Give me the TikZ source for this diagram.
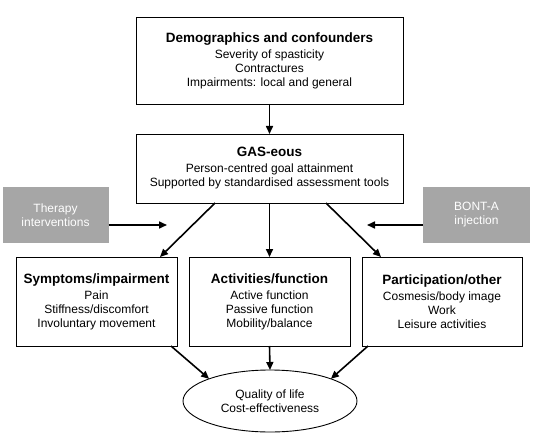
\documentclass[tikz,border=0pt]{standalone}
\usepackage{fontspec}
\setmainfont{Liberation Sans}
\usetikzlibrary{arrows.meta,shapes.geometric}
\definecolor{boxgray}{HTML}{A6A6A6}
\begin{document}
\begin{tikzpicture}[x=1pt,y=-1pt,
  every node/.style={inner sep=0pt,outer sep=0pt,align=center,font=\fontsize{12}{14}\selectfont},
  whitebox/.style={draw=black,line width=0.9pt,fill=white,rectangle},
  graybox/.style={fill=boxgray,rectangle,text=white},
  conn/.style={line width=1.6pt,-{Triangle[length=8pt,width=7pt]}}]
\useasboundingbox (0,0) rectangle (537,438);
\newcommand{\hd}[1]{{\bfseries\fontsize{13.5}{16}\selectfont #1}\\[2pt]}
\node[whitebox,minimum width=267,minimum height=87] (demo) at (269.5,60.5)
  {\hd{Demographics and confounders}Severity of spasticity\\Contractures\\Impairments: local and general};
\node[whitebox,minimum width=267,minimum height=69] (gas) at (269.5,168.5)
  {\hd{GAS-eous}Person-centred goal attainment\\Supported by standardised assessment tools};
\node[graybox,minimum width=106,minimum height=56] (ther) at (55.5,215) {Therapy\\interventions};
\node[graybox,minimum width=107,minimum height=56] (bont) at (476.5,215) {BONT-A\\injection};
\node[whitebox,minimum width=161,minimum height=89] (sym) at (96.5,301.5)
  {\hd{Symptoms/impairment}Pain\\Stiffness/discomfort\\Involuntary movement};
\node[whitebox,minimum width=161,minimum height=89] (act) at (269.5,301.5)
  {\hd{Activities/function}Active function\\Passive function\\Mobility/balance};
\node[whitebox,minimum width=160,minimum height=89] (par) at (442,301.5)
  {\hd{Participation/other}Cosmesis/body image\\Work\\Leisure activities};
\node[draw=black,line width=0.9pt,ellipse,minimum width=174,minimum height=62] (qol) at (270,401)
  {Quality of life\\Cost-effectiveness};
\coordinate (therend) at (167,225);
\coordinate (bontend) at (367,225);
\draw[conn] (demo.south) -- (gas.north);
\draw[conn] ([xshift=-54.5pt]gas.south) -- ([xshift=63.5pt]sym.north);
\draw[conn] (gas.south) -- (act.north);
\draw[conn] ([xshift=56.5pt]gas.south) -- ([xshift=-61pt]par.north);
\draw[conn] ([yshift=-10pt]ther.east) -- (therend);
\draw[conn] ([yshift=-10pt]bont.west) -- (bontend);
\draw[conn] ([xshift=-6pt]sym.south east) -- (qol.160);
\draw[conn] (act.south) -- (qol.north);
\draw[conn] ([xshift=6pt]par.south west) -- (qol.20);
\end{tikzpicture}
\end{document}
